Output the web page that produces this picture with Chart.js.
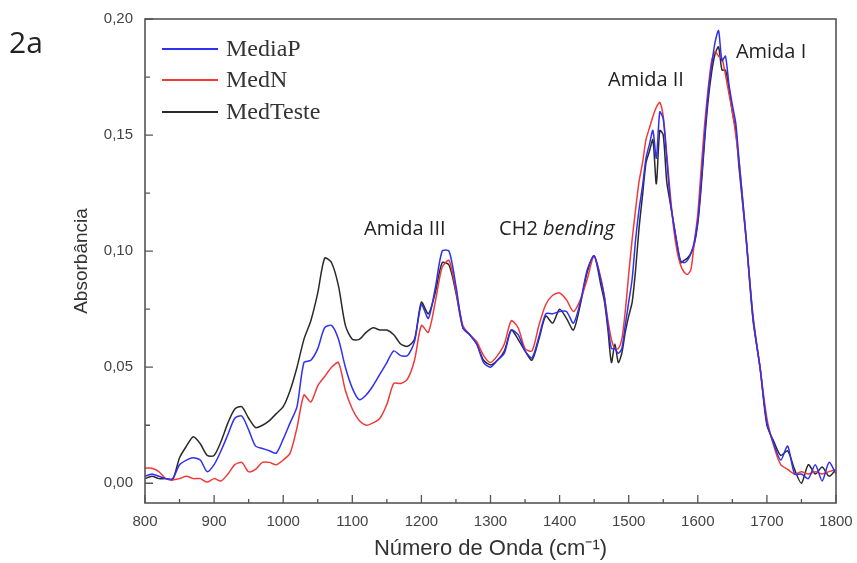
<!DOCTYPE html>
<html><head><meta charset="utf-8">
<script src="https://cdn.jsdelivr.net/npm/chart.js@4.4.1/dist/chart.umd.min.js"></script>
<style>html,body{margin:0;padding:0;background:#fff;}#wrap{width:857px;height:563px;position:relative;}</style>
</head><body><div id="wrap"><canvas id="c" width="857" height="563"></canvas></div>
<script>
// Wavenumber grid (cm-1)
const wavenumbers = [
 800,810,820,830,840,850,860,870,880,890,900,910,920,930,940,950,960,970,980,990,
 1000,1010,1020,1030,1040,1050,1060,1070,1080,1090,1100,1110,1120,1130,1140,1150,1160,1170,1180,1190,
 1200,1210,1220,1230,1240,1250,1260,1270,1280,1290,1300,1310,1320,1330,1340,1350,1360,1370,1380,1390,
 1400,1410,1420,1430,1440,1450,1460,
 1465,1470,1475,1480,1485,1490,1495,1500,1505,1510,1515,1520,1525,1530,1535,1540,1545,1550,1555,1560,
 1565,1570,1575,1580,1585,1590,1595,1600,1605,1610,1615,1620,1625,1630,1635,1640,1645,1650,1655,1660,
 1670,1680,1690,1700,1710,1720,1730,1740,1750,1760,1770,1780,1790,1800];

const mediaP = [
 .003,.004,.003,.002,.002,.008,.010,.011,.010,.005,.008,.014,.021,.028,.029,.023,.016,.015,.014,.013,
 .019,.026,.033,.052,.053,.058,.067,.068,.062,.050,.041,.036,.038,.042,.047,.052,.057,.055,.055,.061,
 .077,.071,.084,.100,.100,.085,.067,.064,.060,.052,.050,.053,.056,.066,.064,.057,.054,.063,.073,.073,
 .074,.074,.069,.078,.092,.098,.087,
 .080,.068,.058,.058,.056,.058,.068,.078,.088,.105,.118,.128,.140,.146,.152,.140,.160,.157,.140,.122,
 .112,.103,.096,.095,.096,.099,.104,.113,.130,.150,.168,.180,.190,.195,.182,.184,.172,.163,.155,.138,
 .106,.071,.050,.026,.017,.010,.016,.004,.004,.002,.008,.001,.009,.004];

const medN = [
 .0065,.0065,.005,.002,.0015,.002,.003,.002,.002,.0005,.002,.001,.004,.008,.009,.005,.006,.009,.009,.008,
 .010,.013,.024,.038,.035,.042,.046,.050,.052,.040,.032,.027,.025,.026,.028,.034,.043,.043,.045,.053,
 .068,.065,.078,.093,.096,.083,.068,.064,.061,.055,.052,.055,.060,.070,.067,.058,.057,.068,.077,.081,
 .082,.079,.074,.079,.088,.098,.088,
 .080,.070,.062,.058,.058,.062,.074,.090,.105,.118,.130,.138,.148,.153,.158,.162,.164,.158,.142,.125,
 .110,.100,.094,.091,.090,.092,.104,.116,.136,.155,.170,.182,.186,.184,.183,.176,.168,.160,.150,.138,
 .105,.072,.050,.028,.016,.008,.006,.004,.005,.004,.005,.004,.005,.006];

const medTeste = [
 .002,.003,.002,.002,.0015,.011,.016,.020,.017,.012,.012,.018,.026,.032,.033,.028,.024,.025,.027,.030,
 .033,.040,.050,.062,.070,.082,.097,.095,.085,.068,.062,.062,.065,.067,.066,.066,.064,.060,.059,.062,
 .078,.073,.082,.095,.094,.082,.067,.064,.060,.053,.051,.053,.057,.066,.062,.057,.053,.062,.072,.069,
 .075,.071,.066,.077,.091,.098,.085,
 .078,.066,.052,.060,.052,.056,.065,.072,.078,.092,.110,.124,.138,.143,.148,.129,.152,.150,.130,.121,
 .112,.103,.095,.096,.097,.099,.103,.112,.128,.148,.165,.177,.185,.188,.178,.178,.170,.160,.152,.135,
 .105,.070,.050,.025,.018,.012,.014,.006,.000,.008,.004,.007,.003,.006];

const seriesNames = ['MediaP','MedN','MedTeste'];
const xTickValues = [800,900,1000,1100,1200,1300,1400,1500,1600,1700,1800];
const xMinorValues = [850,950,1050,1150,1250,1350,1450,1550,1650,1750];
const yTickValues = [0,0.05,0.10,0.15,0.20];
const yMinorValues = [0.025,0.075,0.125,0.175];
const peakLabels = [
 {text:'Amida III', x:1176, y:0.1095},
 {text:'Amida II', x:1525, y:0.1737},
 {text:'Amida I', x:1706, y:0.1858}
];

const colors = ['#3030f0','#f03a3a','#2a2a2a'];
const toPts = arr => wavenumbers.map((w,i)=>({x:w,y:arr[i]}));
const ANN = '"Open Sans", sans-serif';

const decor = {
  id:'decor',
  afterDatasetsDraw(chart){
    const {ctx, chartArea:a, scales:{x,y}} = chart;
    ctx.save();
    ctx.strokeStyle='#555'; ctx.lineWidth=1.6;
    ctx.strokeRect(a.left, a.top, a.right-a.left, a.bottom-a.top);
    ctx.lineWidth=1.3;
    ctx.beginPath();
    xTickValues.forEach(v=>{const p=x.getPixelForValue(v); ctx.moveTo(p,a.bottom); ctx.lineTo(p,a.bottom-8);});
    xMinorValues.forEach(v=>{const p=x.getPixelForValue(v); ctx.moveTo(p,a.bottom); ctx.lineTo(p,a.bottom-4);});
    yTickValues.forEach(v=>{const p=y.getPixelForValue(v); ctx.moveTo(a.left,p); ctx.lineTo(a.left+8,p);});
    yMinorValues.forEach(v=>{const p=y.getPixelForValue(v); ctx.moveTo(a.left,p); ctx.lineTo(a.left+5,p);});
    ctx.stroke();

    // legend
    ctx.font='24px "Liberation Serif", "DejaVu Serif", serif';
    ctx.textBaseline='middle'; ctx.textAlign='left';
    const rows=[49,80,112];
    chart.data.datasets.forEach((ds,i)=>{
      ctx.strokeStyle=ds.borderColor; ctx.lineWidth=2;
      ctx.beginPath(); ctx.moveTo(162,rows[i]); ctx.lineTo(218,rows[i]); ctx.stroke();
      ctx.fillStyle='#333';
      ctx.fillText(ds.label, 226, rows[i]+1);
    });

    // peak annotations
    ctx.fillStyle='#222';
    ctx.font='20px '+ANN;
    ctx.textAlign='center';
    peakLabels.forEach(l=>{
      ctx.fillText(l.text, x.getPixelForValue(l.x), y.getPixelForValue(l.y));
    });
    // CH2 bending (bending in italics)
    const cx = x.getPixelForValue(1396), cy = y.getPixelForValue(0.1095);
    ctx.font='20px '+ANN;
    const t1='CH2 ';
    const w1=ctx.measureText(t1).width;
    ctx.font='italic 20px '+ANN;
    const w2=ctx.measureText('bending').width;
    const start=cx-(w1+w2)/2;
    ctx.textAlign='left';
    ctx.font='20px '+ANN;
    ctx.fillText(t1,start,cy);
    ctx.font='italic 20px '+ANN;
    ctx.fillText('bending',start+w1,cy);

    // panel tag
    ctx.font='30px '+ANN;
    ctx.fillStyle='#222';
    ctx.fillText('2a',9,44);
    ctx.restore();
  }
};

new Chart(document.getElementById('c'),{
  type:'line',
  data:{datasets:[
    {label:seriesNames[0], data:toPts(mediaP), borderColor:colors[0]},
    {label:seriesNames[1], data:toPts(medN), borderColor:colors[1]},
    {label:seriesNames[2], data:toPts(medTeste), borderColor:colors[2]}
  ]},
  options:{
    responsive:false, animation:false, devicePixelRatio:1,
    layout:{padding:{top:19,right:21,left:0,bottom:0}},
    elements:{point:{radius:0}, line:{borderWidth:1.5, tension:0.25, fill:false}},
    plugins:{legend:{display:false}, tooltip:{enabled:false}},
    scales:{
      x:{type:'linear', min:800, max:1800,
         afterBuildTicks:s=>{s.ticks=xTickValues.map(v=>({value:v}));},
         afterFit:s=>{s.height=60; s.paddingLeft=0; s.paddingRight=0;},
         grid:{display:false, drawTicks:false},
         border:{display:false},
         ticks:{padding:10, color:'#444', font:{family:'"Liberation Sans", Arial, sans-serif', size:15}, maxRotation:0, callback:v=>String(v)},
         title:{display:true, text:'Número de Onda (cm⁻¹)', color:'#333', font:{family:'"Liberation Sans", Arial, sans-serif', size:22}, padding:{top:0,bottom:1}}
      },
      y:{type:'linear', min:-0.0085, max:0.20,
         afterBuildTicks:s=>{s.ticks=yTickValues.map(v=>({value:v}));},
         afterFit:s=>{s.width=145; s.paddingTop=0; s.paddingBottom=0;},
         grid:{display:false, drawTicks:false},
         border:{display:false},
         ticks:{padding:12, color:'#444', font:{family:'"Liberation Sans", Arial, sans-serif', size:15}, callback:v=>v.toFixed(2).replace('.',',')},
         title:{display:true, text:'Absorbância', color:'#333', font:{family:'"Liberation Sans", Arial, sans-serif', size:19}, padding:{top:70,bottom:0}}
      }
    }
  },
  plugins:[decor]
});
</script></body></html>
